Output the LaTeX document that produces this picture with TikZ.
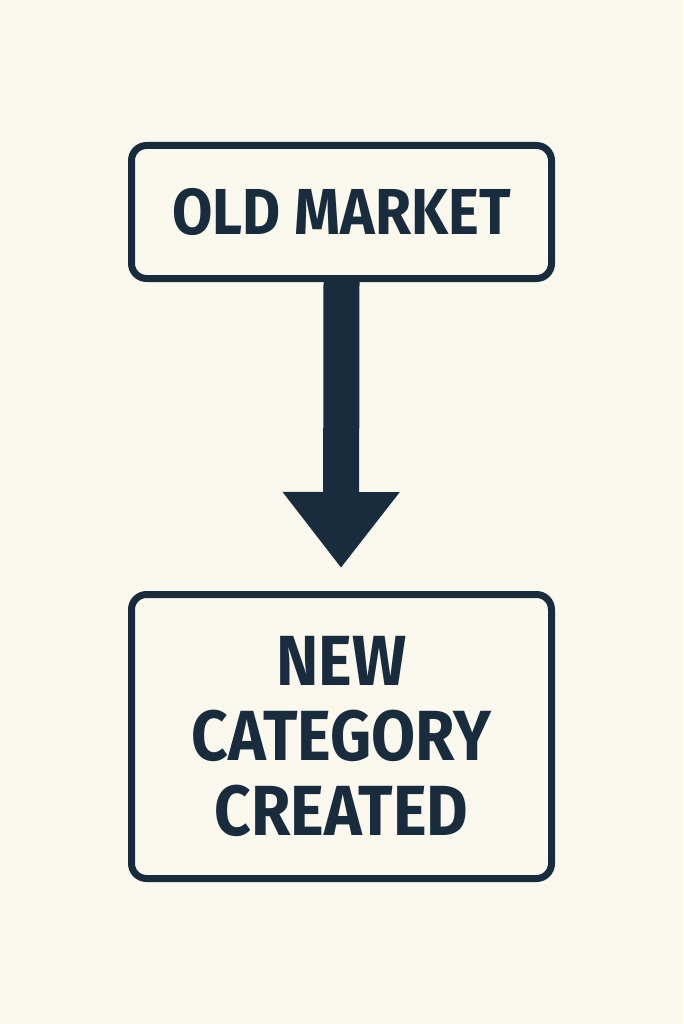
\documentclass[tikz,border=0pt]{standalone}
\usepackage{fontspec}
\setmainfont{Fira Sans}[FakeStretch=0.90]
\usetikzlibrary{arrows.meta}
\definecolor{navy}{HTML}{182C3D}
\definecolor{cream}{HTML}{FBF8EE}
\tikzset{
  marketbox/.style={draw=navy, line width=7pt, rounded corners=15pt,
    minimum width=420pt, align=center, text=navy, font=\bfseries},
}

\begin{document}
\begin{tikzpicture}[x=1pt,y=-1pt]
\fill[cream] (0,0) rectangle (683,1024);
\useasboundingbox (0,0) rectangle (683,1024);
\node[marketbox, minimum height=133pt, font=\fontsize{65}{70}\bfseries] (old) at (341.5,212) {OLD MARKET};
\node[marketbox, minimum height=284pt, font=\fontsize{71}{75}\bfseries] (new) at (341.5,736.5) {NEW\\CATEGORY\\CREATED};
% the big arrow stops short of the lower box
\coordinate (tip) at (341,568);
\draw[navy, line width=36pt, -{Triangle[length=76pt, width=112pt]}] (old.south) -- (tip);
\end{tikzpicture}
\end{document}
